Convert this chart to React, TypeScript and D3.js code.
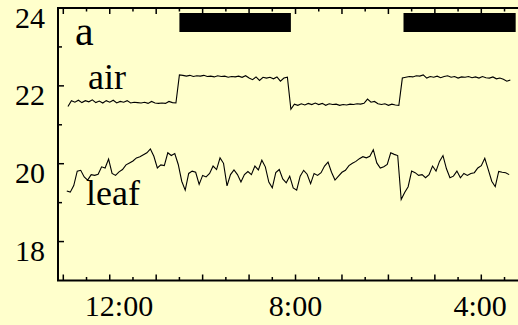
import React from "react";
import * as d3 from "d3";

// ---- data (hours since midnight of day 1; temperatures in °C) ----
const leafStart = 10.15;
const leafStep = 0.15;
const leafValues = [
  19.30, 19.27, 19.44, 19.81, 19.83, 19.66, 19.58, 19.72, 19.70, 19.73, 19.92, 19.89, 20.12, 19.75, 19.70, 19.79,
  19.85, 19.97, 20.02, 20.07, 20.15, 20.18, 20.23, 20.28, 20.38, 20.19, 19.89, 19.97, 19.95, 20.28, 20.21, 20.26,
  19.98, 19.55, 19.32, 19.75, 19.81, 19.78, 19.47, 19.70, 19.66, 19.75, 19.94, 19.85, 20.15, 20.01, 19.43, 19.72,
  19.84, 19.72, 19.53, 19.72, 19.80, 19.72, 19.94, 19.84, 20.09, 19.92, 19.53, 19.38, 19.77, 19.85, 19.61, 19.51,
  19.68, 19.38, 19.32, 19.68, 19.83, 19.73, 19.49, 19.75, 19.70, 19.77, 19.94, 20.04, 19.78, 19.58, 19.68, 19.78,
  19.83, 19.95, 20.01, 20.06, 20.13, 20.18, 20.15, 20.19, 20.36, 20.02, 19.89, 19.92, 19.98, 20.28, 20.24, 20.21,
  19.08, 19.26, 19.41, 19.81, 19.77, 19.70, 19.72, 19.64, 19.72, 19.94, 19.81, 20.06, 20.21, 19.87, 19.64, 19.68,
  19.81, 19.64, 19.75, 19.70, 19.75, 19.77, 19.89, 19.95, 20.14, 19.85, 19.55, 19.41, 19.80, 19.78, 19.77, 19.72,
];

const airStart = 10.2;
const airStep = 0.15;
const airValues = [
  21.47, 21.62, 21.58, 21.63, 21.57, 21.62, 21.59, 21.64, 21.57, 21.61, 21.56, 21.62, 21.58, 21.63, 21.56, 21.60,
  21.58, 21.62, 21.56, 21.58, 21.57, 21.56, 21.58, 21.55, 21.60, 21.56, 21.55, 21.56, 21.55, 21.60, 21.57, 21.56,
  22.28, 22.27, 22.25, 22.27, 22.24, 22.26, 22.25, 22.27, 22.24, 22.25, 22.23, 22.26, 22.24, 22.25, 22.22, 22.24,
  22.23, 22.25, 22.22, 22.26, 22.20, 22.16, 22.23, 22.14, 22.22, 22.20, 22.22, 22.18, 22.23, 22.12, 22.20, 22.22,
  21.40, 21.53, 21.50, 21.54, 21.51, 21.55, 21.52, 21.56, 21.52, 21.55, 21.50, 21.54, 21.52, 21.53, 21.50, 21.52,
  21.51, 21.53, 21.52, 21.54, 21.53, 21.55, 21.66, 21.58, 21.60, 21.54, 21.52, 21.54, 21.50, 21.53, 21.51, 21.50,
  22.20, 22.22, 22.24, 22.23, 22.26, 22.25, 22.28, 22.20, 22.24, 22.22, 22.25, 22.21, 22.24, 22.26, 22.22, 22.24,
  22.20, 22.23, 22.22, 22.24, 22.21, 22.23, 22.20, 22.24, 22.21, 22.20, 22.23, 22.18, 22.20, 22.17, 22.12, 22.15,
];

const darkStarts = [15.0, 24.65];
const darkEnds = [19.8, 29.48];

const yMajorTicks = [18, 20, 22, 24];
const yMinorTicks = [19, 21, 23];
const xTickHours = d3.range(10, 30, 1);
const xLabelHours = [12.4, 20, 27.95];
const xLabels = ["12:00", "8:00", "4:00"];

const W = 518;
const H = 325;
const FONT = "'Liberation Serif', 'Times New Roman', serif";

export default function App() {
  const x = d3.scaleLinear().domain([10, 28]).range([63.3, 481.3]);
  const y = d3.scaleLinear().domain([17, 24]).range([280.5, 8]);
  const left = 58;
  const right = W;
  const top = y(24);
  const bottom = y(17);

  const leafPts: [number, number][] = leafValues.map((v, i) => [leafStart + i * leafStep, v]);
  const airPts: [number, number][] = airValues.map((v, i) => [airStart + i * airStep, v]);
  const line = d3
    .line<[number, number]>()
    .x((d) => x(d[0]))
    .y((d) => y(d[1]));

  return (
    <svg
      width={W}
      height={H}
      style={{ position: "fixed", left: 0, top: 0, display: "block" }}
    >
      <rect x={0} y={0} width={W} height={H} fill="#FFFFCC" />

      {darkStarts.map((s, i) => (
        <rect key={i} x={x(s)} y={top + 5} width={x(darkEnds[i]) - x(s)} height={19} fill="#000" />
      ))}

      <path d={line(airPts) || ""} fill="none" stroke="#000" strokeWidth={1.1} />
      <path d={line(leafPts) || ""} fill="none" stroke="#000" strokeWidth={1.1} />

      {/* axes */}
      <line x1={left} x2={left} y1={top} y2={bottom} stroke="#000" strokeWidth={2} />
      <line x1={left - 1} x2={right} y1={bottom} y2={bottom} stroke="#000" strokeWidth={2} />
      <line x1={left - 1} x2={right} y1={top} y2={top} stroke="#000" strokeWidth={2} />

      {yMajorTicks.map((t) => (
        <g key={"ym" + t}>
          <line x1={left} x2={left + 6} y1={y(t)} y2={y(t)} stroke="#000" strokeWidth={1.5} />
          <text x={45} y={y(t) + 19.5} textAnchor="end" fontFamily={FONT} fontSize={30} fill="#000">
            {t}
          </text>
        </g>
      ))}
      {yMinorTicks.map((t) => (
        <line key={"yn" + t} x1={left} x2={left + 4} y1={y(t)} y2={y(t)} stroke="#000" strokeWidth={1.5} />
      ))}

      {xTickHours.map((h) => {
        const len = h % 2 === 0 ? 6 : 3.5;
        return (
          <g key={"xt" + h}>
            <line x1={x(h)} x2={x(h)} y1={bottom} y2={bottom - len} stroke="#000" strokeWidth={1.5} />
            <line x1={x(h)} x2={x(h)} y1={top} y2={top + len} stroke="#000" strokeWidth={1.5} />
          </g>
        );
      })}
      {xLabels.map((l, i) => (
        <text key={l} x={x(xLabelHours[i])} y={316} textAnchor="middle" fontFamily={FONT} fontSize={30} fill="#000">
          {l}
        </text>
      ))}

      <text x={75} y={45} fontFamily={FONT} fontSize={42} fill="#000">a</text>
      <text x={88} y={88.5} fontFamily={FONT} fontSize={36} fill="#000">air</text>
      <text x={86} y={205} fontFamily={FONT} fontSize={36} fill="#000">leaf</text>
    </svg>
  );
}
